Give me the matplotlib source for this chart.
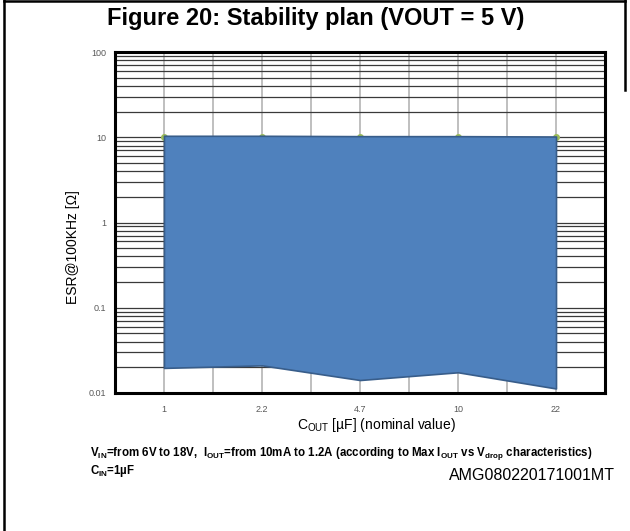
import matplotlib
matplotlib.use("Agg")
import matplotlib.pyplot as plt
from matplotlib.lines import Line2D
import numpy as np

plt.rcParams['font.family'] = ['Liberation Sans', 'DejaVu Sans']
plt.rcParams['mathtext.fontset'] = 'custom'
plt.rcParams['mathtext.rm'] = 'Liberation Sans'
plt.rcParams['mathtext.it'] = 'Liberation Sans'
plt.rcParams['mathtext.bf'] = 'Liberation Sans:bold'

# data
cout_labels = ["1", "2.2", "4.7", "10", "22"]
esr_max = [10.4, 10.4, 10.3, 10.3, 10.2]
esr_min = [0.0197, 0.0211, 0.0142, 0.0175, 0.0113]
esr_points = [10, 10, 10, 10, 10]
y_ticks = [0.01, 0.1, 1, 10, 100]
y_ticklabels = ["0.01", "0.1", "1", "10", "100"]

fig = plt.figure(figsize=(6.3, 5.31), dpi=100)
ax = fig.add_axes([115/630, 1-393/531, 490/630, 341/531])

x = np.arange(len(cout_labels))

ax.set_yscale('log')
ax.set_ylim(0.01, 100)
ax.set_xlim(-0.5, len(cout_labels) - 0.5)

# grid
for xv in np.arange(0, len(cout_labels) - 0.9, 0.5):
    ax.axvline(xv, color='#bfbfbf', lw=1.4, zorder=1)
for dec in [0.01, 0.1, 1, 10]:
    for m in range(1, 10):
        ax.axhline(dec * m, color='#3a3a3a', lw=0.9, zorder=1)

ax.plot(x, esr_points, 'o', color='#9bbb59', ms=4, zorder=2)
ax.fill_between(x, esr_min, esr_max, facecolor='#4f81bd', edgecolor='#385d8a',
                lw=1.2, zorder=3)

ax.set_xticks(x)
ax.set_xticklabels(cout_labels)
ax.set_yticks(y_ticks)
ax.set_yticklabels(y_ticklabels)
ax.minorticks_off()
ax.tick_params(length=0, labelsize=6.5, labelcolor='#595959', pad=6.5)
ax.tick_params(axis='x', pad=8.5)
for s in ax.spines.values():
    s.set_color('black')
    s.set_linewidth(2.2)
    s.set_zorder(5)

fig.text(73/630, 1-247/531, "ESR@100KHz [Ω]", fontsize=10, rotation=90,
         ha='center', va='center')
fig.text(376/630, 1-425/531, r"C$_{\mathregular{OUT}}$ [µF] (nominal value)",
         fontsize=10, ha='center', va='center')

fig.text(316/630, 1-19/531, "Figure 20: Stability plan (VOUT = 5 V)", ha='center', va='center',
         fontsize=17, fontweight='bold')
fig.text(90/630, 1-453/531,
         r"V$_{\mathbf{IN}}$=from 6V to 18V,  I$_{\mathbf{OUT}}$=from 10mA to 1.2A "
         r"(according to Max I$_{\mathbf{OUT}}$ vs V$_{\mathbf{drop}}$ characteristics)",
         fontsize=8.3, fontweight='bold', va='center')
fig.text(90/630, 1-471/531, r"C$_{\mathbf{IN}}$=1µF", fontsize=8.3, fontweight='bold', va='center')
fig.text(615/630, 1-476/531, "AMG080220171001MT", fontsize=11.5, ha='right', va='center')

# frame
fig.add_artist(Line2D([3.8/630, 3.8/630], [0, 1], color='black', lw=1.8, transform=fig.transFigure))
fig.add_artist(Line2D([3.8/630, 625/630], [1-1.2/531, 1-1.2/531], color='black', lw=1.8, transform=fig.transFigure))
fig.add_artist(Line2D([625/630, 625/630], [1, 1-90/531], color='black', lw=1.8, transform=fig.transFigure))

fig.savefig("out.png", dpi=100)
